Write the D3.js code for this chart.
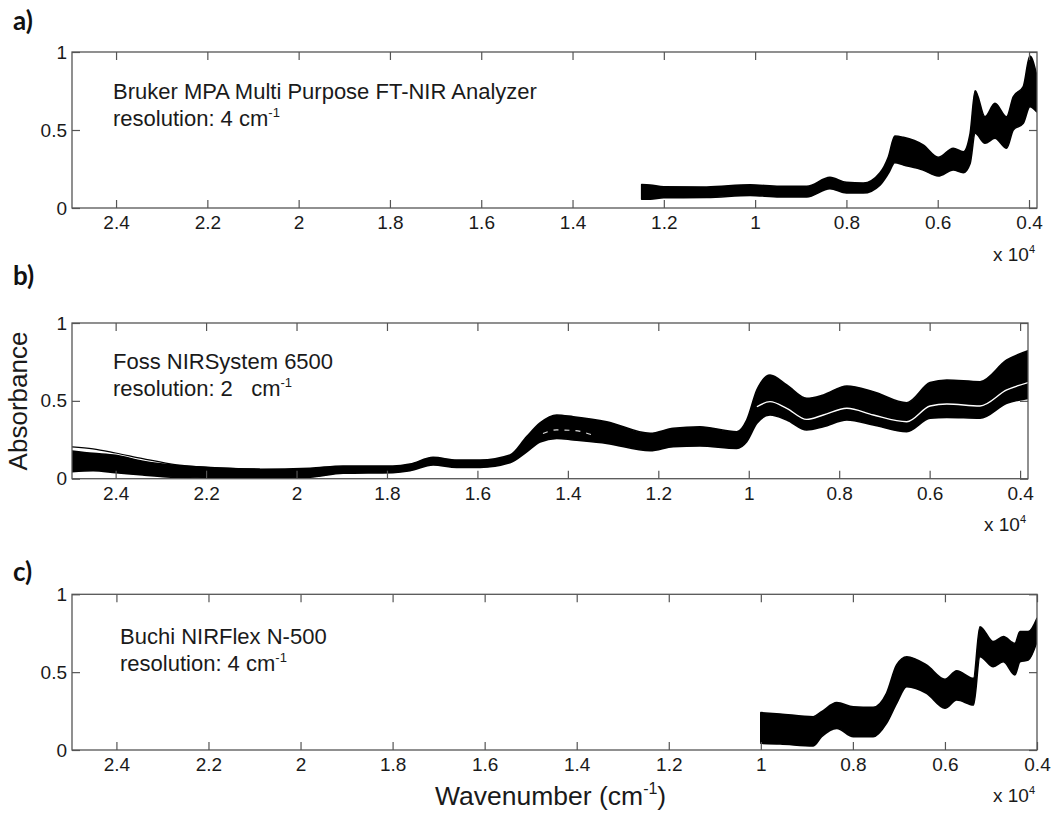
<!DOCTYPE html>
<html>
<head>
<meta charset="utf-8">
<script src="https://cdn.jsdelivr.net/npm/d3@7"></script>
<style>
  body { margin: 0; background: #fff; }
  svg text { font-family: "Liberation Sans", Arial, sans-serif; fill: #1a1a1a; }
</style>
</head>
<body>
<script>
// wavenumber in units of 10^4 cm-1, absorbance envelopes of the spectra bundles
var xTicks = [2.4, 2.2, 2, 1.8, 1.6, 1.4, 1.2, 1, 0.8, 0.6, 0.4];
var xTickLabels = ['2.4', '2.2', '2', '1.8', '1.6', '1.4', '1.2', '1', '0.8', '0.6', '0.4'];
var yTicks = [0, 0.5, 1];
var yTickLabels = ['0', '0.5', '1'];

// a) Bruker MPA
var aWave = [1.2485, 1.23, 1.20, 1.106, 1.011, 0.946, 0.887, 0.836, 0.80, 0.763, 0.7265, 0.708, 0.694, 0.675, 0.632, 0.599, 0.566, 0.544, 0.529, 0.518, 0.4965, 0.4746, 0.449, 0.4345, 0.4126, 0.398, 0.3833];
var aHigh = [0.150, 0.147, 0.136, 0.135, 0.149, 0.139, 0.139, 0.196, 0.164, 0.160, 0.226, 0.329, 0.462, 0.453, 0.404, 0.325, 0.383, 0.361, 0.479, 0.752, 0.585, 0.671, 0.585, 0.713, 0.778, 0.974, 0.853];
var aLow  = [0.056, 0.056, 0.066, 0.067, 0.081, 0.071, 0.071, 0.124, 0.096, 0.096, 0.147, 0.222, 0.290, 0.276, 0.244, 0.205, 0.244, 0.226, 0.286, 0.479, 0.415, 0.447, 0.383, 0.500, 0.543, 0.649, 0.617];

// b) Foss NIRSystem 6500
var bWave = [2.4965, 2.45, 2.40, 2.34, 2.265, 2.19, 2.081, 1.97, 1.897, 1.787, 1.749, 1.698, 1.646, 1.594, 1.528, 1.491, 1.4615, 1.4246, 1.388, 1.314, 1.218, 1.167, 1.108, 1.0265, 1.0045, 0.982, 0.953, 0.916, 0.872, 0.835, 0.783, 0.7245, 0.6506, 0.599, 0.562, 0.4885, 0.4295, 0.3825];
var bHigh = [0.178, 0.163, 0.150, 0.112, 0.084, 0.071, 0.060, 0.067, 0.082, 0.082, 0.094, 0.137, 0.120, 0.120, 0.152, 0.270, 0.358, 0.409, 0.398, 0.366, 0.292, 0.324, 0.334, 0.302, 0.377, 0.570, 0.666, 0.602, 0.516, 0.538, 0.595, 0.559, 0.488, 0.617, 0.634, 0.623, 0.762, 0.822];
var bLow  = [0.045, 0.051, 0.039, 0.024, 0.009, 0.003, 0.000, 0.009, 0.035, 0.039, 0.051, 0.088, 0.073, 0.073, 0.103, 0.173, 0.236, 0.259, 0.249, 0.227, 0.180, 0.206, 0.210, 0.195, 0.238, 0.356, 0.409, 0.377, 0.313, 0.334, 0.377, 0.345, 0.302, 0.388, 0.394, 0.388, 0.484, 0.516];
// one spectrum lying above the bundle at high wavenumbers
var bOutWave = [2.4965, 2.45, 2.40, 2.34, 2.265, 2.19, 2.081];
var bOut     = [0.205, 0.192, 0.165, 0.129, 0.089, 0.072, 0.062];
// white spectrum running inside the bundle
var bMidWaveA = [1.455, 1.425, 1.388, 1.345];
var bMidA     = [0.290, 0.313, 0.310, 0.280];
var bMidWaveB = [0.982, 0.953, 0.916, 0.872, 0.835, 0.783, 0.7245, 0.6506, 0.599, 0.562, 0.4885, 0.4295, 0.3825];
var bMidB     = [0.462, 0.495, 0.452, 0.381, 0.409, 0.452, 0.409, 0.366, 0.467, 0.480, 0.467, 0.570, 0.617];

// c) Buchi NIRFlex N-500
var cWave = [1.0, 0.958, 0.886, 0.868, 0.835, 0.799, 0.756, 0.727, 0.705, 0.683, 0.640, 0.600, 0.5745, 0.538, 0.524, 0.495, 0.473, 0.448, 0.437, 0.419, 0.40];
var cHigh = [0.240, 0.231, 0.214, 0.246, 0.304, 0.278, 0.274, 0.364, 0.546, 0.599, 0.546, 0.454, 0.509, 0.460, 0.792, 0.696, 0.728, 0.685, 0.760, 0.760, 0.846];
var cLow  = [0.043, 0.039, 0.026, 0.085, 0.139, 0.085, 0.085, 0.171, 0.300, 0.407, 0.364, 0.268, 0.321, 0.289, 0.599, 0.535, 0.567, 0.482, 0.567, 0.578, 0.696];

var svg = d3.select('body').append('svg')
    .attr('width', 1052).attr('height', 814);

var panels = [
    { id: 'a', tag: 'a)', tagY: 30, left: 72, top: 52, width: 965, height: 156, xDomain: [2.4965, 0.3825],
      wave: aWave, low: aLow, high: aHigh,
      note: ['Bruker MPA Multi Purpose FT-NIR Analyzer', 'resolution: 4 cm'], noteX: 113, noteY: 99 },
    { id: 'b', tag: 'b)', tagY: 285, left: 72, top: 323, width: 956, height: 155.7, xDomain: [2.4965, 0.3825],
      wave: bWave, low: bLow, high: bHigh,
      note: ['Foss NIRSystem 6500', 'resolution: 2   cm'], noteX: 113, noteY: 369 },
    { id: 'c', tag: 'c)', tagY: 581, left: 72, top: 594.3, width: 965, height: 155.7, xDomain: [2.4965, 0.4],
      wave: cWave, low: cLow, high: cHigh,
      note: ['Buchi NIRFlex N-500', 'resolution: 4 cm'], noteX: 120, noteY: 644 }
];

panels.forEach(drawPanel);

function drawPanel( p ){
    var x = d3.scaleLinear().domain( p.xDomain ).range( [0, p.width] );
    var y = d3.scaleLinear().domain( [0, 1] ).range( [p.height, 0] );

    var g = svg.append( 'g' ).attr( 'transform', 'translate(' + p.left + ',' + p.top + ')' );

    svg.append( 'text' )
        .attr( 'x', 13 ).attr( 'y', p.tagY )
        .style( 'font-family', 'Lato, "Open Sans", sans-serif' )
        .style( 'font-weight', 700 )
        .style( 'font-size', '26px' )
        .style( 'fill', '#111' )
        .text( p.tag );

    g.append( 'clipPath' ).attr( 'id', 'clip-' + p.id )
        .append( 'rect' ).attr( 'width', p.width ).attr( 'height', p.height );

    var plot = g.append( 'g' ).attr( 'clip-path', 'url(#clip-' + p.id + ')' );

    var rows = p.wave.map( function( w, i ){ return { w: w, lo: p.low[i], hi: p.high[i] }; } );

    var band = d3.area()
        .x( function( d ){ return x( d.w ); } )
        .y0( function( d ){ return y( d.lo ); } )
        .y1( function( d ){ return y( d.hi ); } )
        .curve( d3.curveMonotoneX );

    plot.append( 'path' )
        .datum( rows )
        .attr( 'd', band )
        .attr( 'fill', '#000' )
        .attr( 'stroke', '#000' )
        .attr( 'stroke-width', 1.6 )
        .attr( 'stroke-linejoin', 'round' );

    var line = d3.line()
        .x( function( d ){ return x( d[0] ); } )
        .y( function( d ){ return y( d[1] ); } )
        .curve( d3.curveMonotoneX );

    if( p.id === 'b' ){
        plot.append( 'path' )
            .datum( d3.zip( bOutWave, bOut ) )
            .attr( 'd', line )
            .attr( 'fill', 'none' )
            .attr( 'stroke', '#000' )
            .attr( 'stroke-width', 1.2 );
        plot.append( 'path' )
            .datum( d3.zip( bMidWaveA, bMidA ) )
            .attr( 'd', line )
            .attr( 'fill', 'none' )
            .attr( 'stroke', '#ddd' )
            .attr( 'stroke-width', 1.2 )
            .attr( 'stroke-dasharray', '5,6' );
        plot.append( 'path' )
            .datum( d3.zip( bMidWaveB, bMidB ) )
            .attr( 'd', line )
            .attr( 'fill', 'none' )
            .attr( 'stroke', '#fff' )
            .attr( 'stroke-width', 1.4 );
    }

    // MATLAB style box with inward ticks on all four sides
    var xb = g.append( 'g' ).attr( 'transform', 'translate(0,' + p.height + ')' )
        .call( d3.axisBottom( x ).tickValues( xTicks ).tickSize( -8 ).tickPadding( 8 )
            .tickFormat( function( d, i ){ return xTickLabels[i]; } ) );
    var xt = g.append( 'g' )
        .call( d3.axisTop( x ).tickValues( xTicks ).tickSize( -8 ).tickFormat( '' ) );
    var yl = g.append( 'g' )
        .call( d3.axisLeft( y ).tickValues( yTicks ).tickSize( -8 ).tickPadding( 5 )
            .tickFormat( function( d, i ){ return yTickLabels[i]; } ) );
    var yr = g.append( 'g' ).attr( 'transform', 'translate(' + p.width + ',0)' )
        .call( d3.axisRight( y ).tickValues( yTicks ).tickSize( -8 ).tickFormat( '' ) );

    [xb, xt, yl, yr].forEach( function( ax ){
        ax.select( '.domain' ).remove();
        ax.selectAll( 'line' ).attr( 'stroke', '#555' ).attr( 'stroke-width', 1.2 );
        ax.selectAll( 'text' )
            .style( 'font-family', '"Liberation Sans", Arial, sans-serif' )
            .style( 'font-size', '19px' )
            .attr( 'fill', '#1a1a1a' );
    } );

    g.append( 'rect' )
        .attr( 'width', p.width ).attr( 'height', p.height )
        .attr( 'fill', 'none' )
        .attr( 'stroke', '#555' )
        .attr( 'stroke-width', 1.3 );

    // exponent label under the axis
    var ex = g.append( 'text' )
        .attr( 'x', p.width - 2 ).attr( 'y', p.height + 52.5 )
        .attr( 'text-anchor', 'end' )
        .style( 'font-size', '19px' );
    ex.append( 'tspan' ).text( 'x 10' );
    ex.append( 'tspan' ).attr( 'dy', -8 ).style( 'font-size', '11px' ).text( '4' );

    // instrument note
    var n1 = g.append( 'text' )
        .attr( 'x', p.noteX - p.left ).attr( 'y', p.noteY - p.top )
        .style( 'font-size', '22px' )
        .text( p.note[0] );
    var n2 = g.append( 'text' )
        .attr( 'x', p.noteX - p.left ).attr( 'y', p.noteY - p.top + 27 )
        .style( 'font-size', '22px' )
        .style( 'white-space', 'pre' );
    n2.append( 'tspan' ).text( p.note[1] );
    n2.append( 'tspan' ).attr( 'dy', -9 ).style( 'font-size', '13px' ).text( '-1' );
}

svg.append( 'text' )
    .attr( 'transform', 'translate(27,401) rotate(-90)' )
    .attr( 'text-anchor', 'middle' )
    .style( 'font-size', '26px' )
    .text( 'Absorbance' );

var xt = svg.append( 'text' )
    .attr( 'x', 435 ).attr( 'y', 805 )
    .style( 'font-size', '26.5px' );
xt.append( 'tspan' ).text( 'Wavenumber (cm' );
xt.append( 'tspan' ).attr( 'dy', -11 ).style( 'font-size', '16px' ).text( '-1' );
xt.append( 'tspan' ).attr( 'dy', 11 ).text( ')' );
</script>
</body>
</html>
